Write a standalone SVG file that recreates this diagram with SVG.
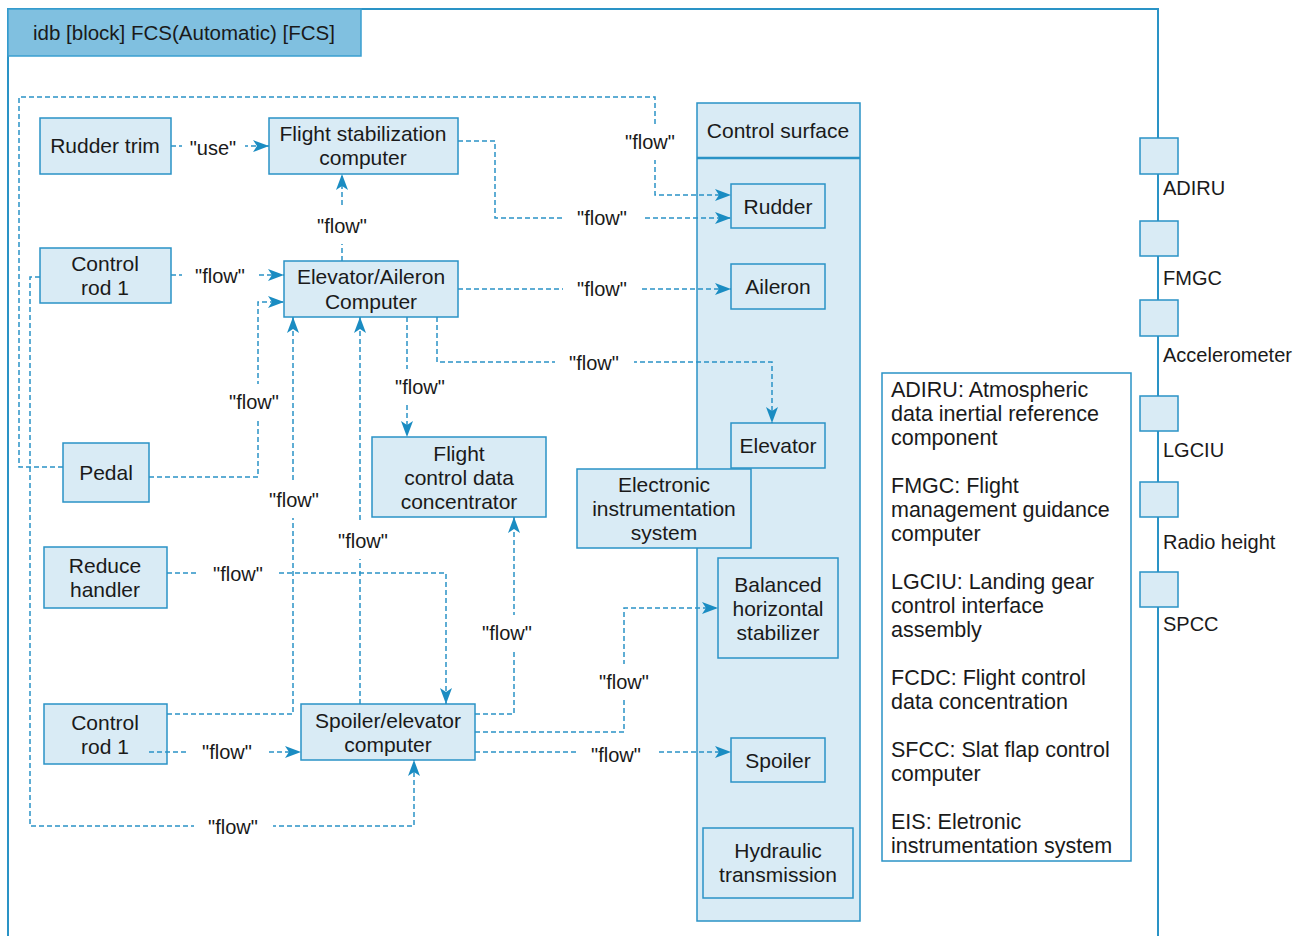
<svg xmlns="http://www.w3.org/2000/svg" width="1304" height="936" viewBox="0 0 1304 936">
<style>
text{font-family:"Liberation Sans",Arial,sans-serif;fill:#1a1a1a}
.n{font-size:21px;text-anchor:middle}
.lg{font-size:21.5px}
.pl{font-size:20px}
.lb{font-size:20px;text-anchor:middle}
.box{fill:#d9ebf5;stroke:#2a93c6;stroke-width:1.5}
.c{fill:none;stroke:#2a93c6;stroke-width:1.5;stroke-dasharray:5 3}
.a{marker-end:url(#ah)}
.bg{fill:#fff}
</style>
<defs>
<marker id="ah" viewBox="0 0 16 12" refX="16" refY="6" markerWidth="16" markerHeight="12" markerUnits="userSpaceOnUse" orient="auto">
<path d="M0,0 L16,6 L0,12 L4,6 Z" fill="#1a8cc2"/>
</marker>
</defs>
<rect width="1304" height="936" fill="#fff"/>
<g id="frame">
<path d="M8,936 V9 H1158 V936" fill="none" stroke="#2a93c6" stroke-width="2"/>
<rect x="8" y="9" width="353" height="47" fill="#80c0e0" stroke="#3a9fd0" stroke-width="1.5"/>
<text x="33" y="40" style="font-size:20.5px">idb [block] FCS(Automatic) [FCS]</text>
</g>
<g id="control-surface">
<rect class="box" x="697" y="103" width="163" height="818"/>
<line x1="697" y1="158" x2="860" y2="158" stroke="#2a93c6" stroke-width="2.5"/>
<text class="n" x="778" y="138">Control surface</text>
</g>
<g id="rudder"><rect class="box" x="731" y="184" width="94" height="44"/><text class="n" x="778" y="214">Rudder</text></g>
<g id="aileron"><rect class="box" x="731" y="264" width="94" height="45"/><text class="n" x="778" y="294">Aileron</text></g>
<g id="elevator"><rect class="box" x="731" y="423" width="94" height="45"/><text class="n" x="778" y="453">Elevator</text></g>
<g id="bhs"><rect class="box" x="718" y="558" width="120" height="100"/><text class="n" x="778" y="592">Balanced</text><text class="n" x="778" y="616">horizontal</text><text class="n" x="778" y="640">stabilizer</text></g>
<g id="spoiler"><rect class="box" x="731" y="738" width="94" height="44"/><text class="n" x="778" y="768">Spoiler</text></g>
<g id="hydraulic"><rect class="box" x="703" y="828" width="150" height="70"/><text class="n" x="778" y="858">Hydraulic</text><text class="n" x="778" y="882">transmission</text></g>
<g id="eis"><rect class="box" x="577" y="469" width="174" height="79"/><text class="n" x="664" y="492">Electronic</text><text class="n" x="664" y="516">instrumentation</text><text class="n" x="664" y="540">system</text></g>
<g id="rudder-trim"><rect class="box" x="40" y="118" width="131" height="56"/><text class="n" x="105" y="153">Rudder trim</text></g>
<g id="fsc"><rect class="box" x="269" y="118" width="189" height="56"/><text class="n" x="363" y="141">Flight stabilization</text><text class="n" x="363" y="165">computer</text></g>
<g id="control-rod-1a"><rect class="box" x="40" y="248" width="131" height="55"/><text class="n" x="105" y="271">Control</text><text class="n" x="105" y="295">rod 1</text></g>
<g id="eac"><rect class="box" x="284" y="261" width="174" height="56"/><text class="n" x="371" y="284">Elevator/Aileron</text><text class="n" x="371" y="309">Computer</text></g>
<g id="pedal"><rect class="box" x="63" y="443" width="86" height="59"/><text class="n" x="106" y="480">Pedal</text></g>
<g id="fcdc"><rect class="box" x="372" y="437" width="174" height="80"/><text class="n" x="459" y="461">Flight</text><text class="n" x="459" y="485">control data</text><text class="n" x="459" y="509">concentrator</text></g>
<g id="reduce-handler"><rect class="box" x="44" y="547" width="123" height="61"/><text class="n" x="105" y="573">Reduce</text><text class="n" x="105" y="597">handler</text></g>
<g id="control-rod-1b"><rect class="box" x="44" y="704" width="123" height="60"/><text class="n" x="105" y="730">Control</text><text class="n" x="105" y="754">rod 1</text></g>
<g id="sec"><rect class="box" x="301" y="704" width="174" height="56"/><text class="n" x="388" y="728">Spoiler/elevator</text><text class="n" x="388" y="752">computer</text></g>
<g id="legend">
<rect x="882" y="373" width="249" height="488" fill="#fff" stroke="#2a93c6" stroke-width="1.5"/>
<text class="lg" x="891" y="397">ADIRU: Atmospheric</text>
<text class="lg" x="891" y="421">data inertial reference</text>
<text class="lg" x="891" y="445">component</text>
<text class="lg" x="891" y="493">FMGC: Flight</text>
<text class="lg" x="891" y="517">management guidance</text>
<text class="lg" x="891" y="541">computer</text>
<text class="lg" x="891" y="589">LGCIU: Landing gear</text>
<text class="lg" x="891" y="613">control interface</text>
<text class="lg" x="891" y="637">assembly</text>
<text class="lg" x="891" y="685">FCDC: Flight control</text>
<text class="lg" x="891" y="709">data concentration</text>
<text class="lg" x="891" y="757">SFCC: Slat flap control</text>
<text class="lg" x="891" y="781">computer</text>
<text class="lg" x="891" y="829">EIS: Eletronic</text>
<text class="lg" x="891" y="853">instrumentation system</text>
</g>
<g id="ports">
<g id="port-adiru"><rect class="box" x="1140" y="138" width="38" height="36"/><text class="pl" x="1163" y="195">ADIRU</text></g>
<g id="port-fmgc"><rect class="box" x="1140" y="221" width="38" height="35"/><text class="pl" x="1163" y="285">FMGC</text></g>
<g id="port-accelerometer"><rect class="box" x="1140" y="300" width="38" height="36"/><text class="pl" x="1163" y="362">Accelerometer</text></g>
<g id="port-lgciu"><rect class="box" x="1140" y="396" width="38" height="35"/><text class="pl" x="1163" y="457">LGCIU</text></g>
<g id="port-radio"><rect class="box" x="1140" y="482" width="38" height="35"/><text class="pl" x="1163" y="549">Radio height</text></g>
<g id="port-spcc"><rect class="box" x="1140" y="572" width="38" height="35"/><text class="pl" x="1163" y="631">SPCC</text></g>
</g>
<g id="connectors">
<path class="c a" d="M171,146 H269"/>
<path class="c a" d="M63,467 H19 V97 H655 V195 H731"/>
<path class="c a" d="M171,275 H284"/>
<path class="c a" d="M149,477 H258 V302 H284"/>
<path class="c a" d="M342,261 V174"/>
<path class="c a" d="M458,141 H495 V218 H731"/>
<path class="c a" d="M458,289 H731"/>
<path class="c a" d="M437,317 V362 H772 V423"/>
<path class="c a" d="M407,317 V437"/>
<path class="c a" d="M167,714 H293 V317"/>
<path class="c a" d="M360,704 V317"/>
<path class="c a" d="M167,573 H446 V704"/>
<path class="c a" d="M149,752 H301"/>
<path class="c a" d="M475,714 H514 V517"/>
<path class="c a" d="M475,732 H624 V608 H718"/>
<path class="c a" d="M475,752 H731"/>
<path class="c a" d="M40,277 H30 V826 H414 V760"/>
</g>
<g id="connector-labels">
<rect class="bg" x="182" y="135" width="63" height="26"/><text class="lb" x="213" y="155">"use"</text>
<rect class="bg" x="622" y="124" width="56" height="36"/><text class="lb" x="650" y="149">"flow"</text>
<rect class="bg" x="182" y="263" width="76" height="26"/><text class="lb" x="220" y="283">"flow"</text>
<rect class="bg" x="226" y="384" width="56" height="36"/><text class="lb" x="254" y="409">"flow"</text>
<rect class="bg" x="314" y="208" width="56" height="36"/><text class="lb" x="342" y="233">"flow"</text>
<rect class="bg" x="563" y="205" width="79" height="26"/><text class="lb" x="602" y="225">"flow"</text>
<rect class="bg" x="563" y="276" width="79" height="26"/><text class="lb" x="602" y="296">"flow"</text>
<rect class="bg" x="555" y="350" width="79" height="26"/><text class="lb" x="594" y="370">"flow"</text>
<rect class="bg" x="392" y="369" width="56" height="36"/><text class="lb" x="420" y="394">"flow"</text>
<rect class="bg" x="266" y="482" width="56" height="36"/><text class="lb" x="294" y="507">"flow"</text>
<rect class="bg" x="335" y="523" width="56" height="36"/><text class="lb" x="363" y="548">"flow"</text>
<rect class="bg" x="199" y="561" width="79" height="26"/><text class="lb" x="238" y="581">"flow"</text>
<rect class="bg" x="188" y="739" width="79" height="26"/><text class="lb" x="227" y="759">"flow"</text>
<rect class="bg" x="194" y="814" width="79" height="26"/><text class="lb" x="233" y="834">"flow"</text>
<rect class="bg" x="479" y="615" width="56" height="36"/><text class="lb" x="507" y="640">"flow"</text>
<rect class="bg" x="596" y="664" width="56" height="36"/><text class="lb" x="624" y="689">"flow"</text>
<rect class="bg" x="577" y="742" width="79" height="26"/><text class="lb" x="616" y="762">"flow"</text>
</g>
</svg>
